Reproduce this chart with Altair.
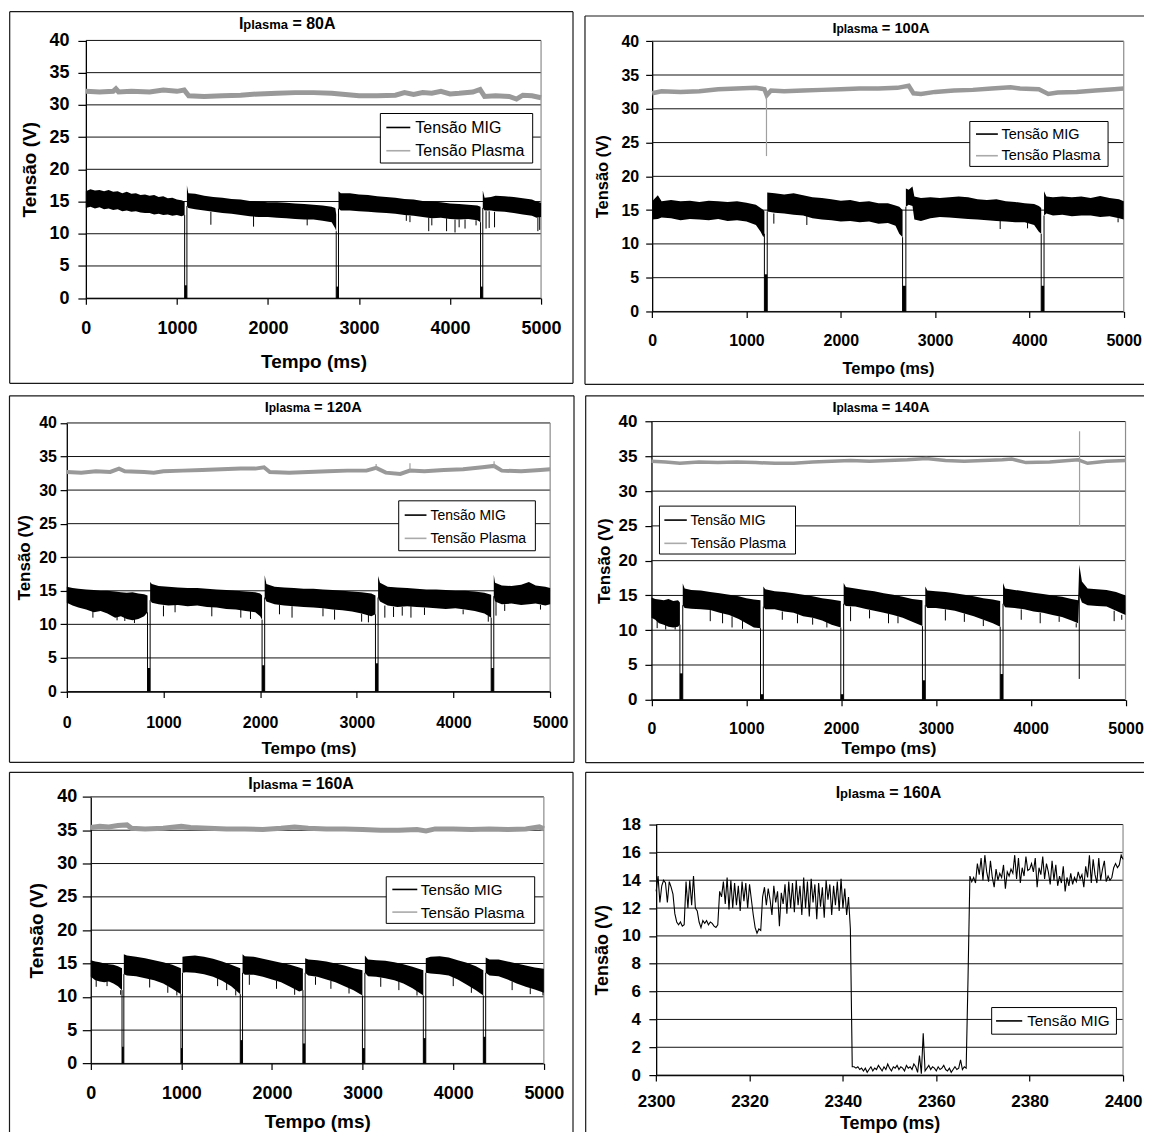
import altair as alt
import pandas as pd
import numpy as np

MIG = "Tensão MIG"
PLA = "Tensão Plasma"
FONT = "Liberation Sans"

# ------------------------------------------------------------------
# DATA
# MIG voltage band: segments between short circuits, knots (t ms, upper V, lower V)
# ------------------------------------------------------------------
MIG80 = [
    [(0, 16.6, 14.0), (50, 16.9, 14.2), (100, 16.7, 13.9), (150, 16.8, 14.1), (200, 16.6, 13.8),
     (250, 16.8, 13.9), (300, 16.5, 13.7), (350, 16.6, 13.8), (400, 16.3, 13.5), (450, 16.5, 13.6),
     (500, 16.2, 13.4), (550, 16.3, 13.5), (600, 16.0, 13.3), (650, 16.1, 13.2), (700, 15.9, 13.2),
     (750, 16.0, 13.0), (800, 15.7, 13.1), (850, 15.8, 12.9), (900, 15.5, 13.0), (950, 15.6, 12.8),
     (1000, 15.3, 12.9), (1050, 15.2, 12.7), (1085, 15.0, 12.9)],
    [(1110, 17.5, 14.3), (1125, 16.3, 14.0), (1200, 16.2, 13.8), (1300, 15.9, 13.6), (1400, 15.7, 13.4),
     (1500, 15.6, 13.2), (1600, 15.4, 13.1), (1700, 15.3, 12.9), (1800, 15.1, 12.7), (1900, 15.0, 12.6),
     (2000, 14.9, 12.6), (2100, 14.9, 12.5), (2200, 14.8, 12.4), (2300, 14.7, 12.3), (2400, 14.6, 12.2),
     (2500, 14.5, 12.2), (2600, 14.4, 12.0), (2700, 14.2, 11.8), (2740, 14.0, 10.8), (2750, 13.0, 10.4)],
    [(2775, 16.6, 13.9), (2800, 16.3, 13.6), (2900, 16.3, 13.6), (3000, 16.1, 13.5), (3100, 16.0, 13.4),
     (3200, 15.8, 13.3), (3300, 15.7, 13.2), (3400, 15.6, 13.1), (3500, 15.4, 12.9), (3600, 15.3, 12.8),
     (3700, 15.1, 12.6), (3800, 15.0, 12.4), (3900, 14.9, 12.5), (4000, 14.7, 12.3), (4100, 14.6, 12.2),
     (4200, 14.5, 12.3), (4300, 14.4, 12.1), (4335, 14.2, 11.8)],
    [(4360, 16.7, 14.0), (4380, 15.6, 13.6), (4450, 15.7, 13.6), (4500, 15.9, 13.5), (4600, 15.8, 13.4),
     (4700, 15.7, 13.2), (4800, 15.5, 13.0), (4900, 15.3, 12.8), (4950, 15.0, 12.5), (5000, 14.8, 12.6)],
]
DIPS80 = [(1085, 1110, 2.0), (2750, 2775, 1.8), (4335, 4360, 1.8)]
SPK80 = [(1373, 13.4, 11.4), (1842, 12.8, 11.1), (2431, 12.3, 11.3), (3520, 12.9, 12.0), (3560, 12.8, 11.8),
         (3766, 12.5, 10.4), (3800, 12.4, 11.3), (3962, 12.4, 10.4), (4055, 12.2, 10.2), (4100, 12.2, 11.0),
         (4165, 12.2, 10.8), (4286, 12.1, 11.3), (4396, 13.5, 10.8), (4430, 13.5, 10.9), (4489, 13.4, 11.0),
         (4965, 12.5, 10.4), (4985, 12.6, 10.6)]
PLA80 = [(0, 32.1), (150, 32.0), (300, 32.1), (330, 32.5), (360, 32.0), (500, 32.1), (700, 32.0), (850, 32.3),
         (1000, 32.1), (1080, 32.3), (1130, 31.4), (1300, 31.3), (1500, 31.4), (1700, 31.5), (1900, 31.7),
         (2100, 31.8), (2300, 31.9), (2500, 31.9), (2700, 31.8), (2850, 31.6), (3000, 31.4), (3200, 31.4),
         (3400, 31.5), (3500, 31.9), (3600, 31.6), (3700, 31.9), (3800, 31.8), (3900, 32.1), (4000, 31.7),
         (4100, 31.8), (4250, 32.0), (4330, 32.4), (4380, 31.3), (4500, 31.4), (4650, 31.3), (4730, 30.9),
         (4800, 31.5), (4900, 31.4), (5000, 31.1)]
PSPK80 = []

MIG100 = [
    [(0, 16.3, 13.6), (60, 17.2, 13.7), (100, 16.3, 13.9), (200, 16.5, 13.8), (300, 16.3, 13.5),
     (400, 16.4, 13.7), (500, 16.2, 13.6), (600, 16.4, 13.5), (700, 16.3, 13.7), (800, 16.2, 13.4),
     (900, 16.3, 13.5), (1000, 16.1, 13.3), (1100, 15.8, 12.8), (1150, 15.3, 11.8), (1180, 15.0, 11.0),
     (1190, 14.8, 11.5)],
    [(1220, 17.6, 14.8), (1300, 17.5, 14.6), (1400, 17.3, 14.5), (1500, 17.5, 14.3), (1600, 17.2, 14.2),
     (1700, 16.9, 13.8), (1800, 16.8, 13.6), (1900, 16.6, 13.5), (2000, 16.4, 13.3), (2100, 16.5, 13.4),
     (2200, 16.2, 13.2), (2300, 16.3, 13.3), (2400, 16.0, 13.0), (2500, 16.0, 13.1), (2580, 15.7, 12.7),
     (2620, 15.5, 11.5), (2655, 15.0, 11.0)],
    [(2690, 18.2, 15.5), (2720, 18.0, 15.8), (2760, 18.5, 15.6), (2780, 17.0, 13.6), (2850, 16.8, 13.4),
     (2950, 16.9, 13.8), (3050, 16.8, 14.0), (3150, 16.9, 13.9), (3250, 17.0, 13.8), (3350, 16.9, 13.7),
     (3450, 16.6, 13.6), (3550, 16.5, 13.5), (3650, 16.6, 13.4), (3750, 16.3, 13.3), (3850, 16.2, 13.2),
     (3950, 16.0, 13.2), (4050, 15.9, 12.8), (4100, 15.6, 11.8), (4125, 15.3, 11.5)],
    [(4155, 17.8, 14.2), (4180, 17.0, 14.5), (4250, 16.9, 14.2), (4350, 17.0, 14.3), (4450, 16.9, 14.1),
     (4550, 17.0, 14.2), (4650, 16.8, 14.2), (4750, 17.1, 14.0), (4850, 16.8, 14.1), (4950, 16.6, 13.8),
     (5000, 16.3, 13.6)],
]
DIPS100 = [(1190, 1220, 5.5), (2655, 2690, 3.8), (4125, 4155, 3.8)]
SPK100 = [(1290, 14.5, 13.0), (1640, 14.2, 12.8), (3690, 13.4, 12.2), (3980, 13.2, 12.3), (4940, 13.8, 13.2)]
PLA100 = [(0, 32.3), (100, 32.6), (300, 32.5), (500, 32.6), (700, 32.9), (900, 33.0), (1100, 33.1), (1190, 32.9),
          (1215, 32.0), (1260, 32.7), (1400, 32.6), (1600, 32.7), (1800, 32.8), (2000, 32.9), (2200, 33.0),
          (2400, 33.0), (2600, 33.1), (2720, 33.4), (2770, 32.3), (2850, 32.2), (3000, 32.5), (3200, 32.7),
          (3400, 32.8), (3600, 33.0), (3800, 33.2), (3900, 33.0), (4100, 32.9), (4200, 32.2), (4300, 32.4),
          (4500, 32.5), (4700, 32.7), (4900, 32.9), (5000, 33.0)]
PSPK100 = [(1212, 32.0, 23.0)]

MIG120 = [
    [(0, 15.6, 13.2), (60, 15.4, 12.8), (120, 15.3, 12.5), (200, 15.2, 12.2), (280, 15.1, 11.8),
     (350, 15.0, 12.0), (420, 15.0, 11.6), (500, 14.9, 11.0), (560, 14.8, 11.2), (620, 14.7, 10.8),
     (680, 14.8, 10.6), (740, 14.6, 10.8), (800, 14.5, 11.2), (835, 14.3, 11.8)],
    [(862, 16.3, 13.6), (880, 16.0, 13.2), (950, 15.7, 13.0), (1050, 15.6, 12.8), (1150, 15.5, 12.9),
     (1250, 15.4, 12.7), (1350, 15.4, 12.8), (1450, 15.3, 12.6), (1550, 15.2, 12.5), (1650, 15.1, 12.3),
     (1750, 15.0, 12.2), (1850, 14.9, 12.0), (1950, 14.8, 11.8), (2000, 14.6, 11.2), (2020, 14.3, 10.7)],
    [(2047, 17.3, 14.0), (2065, 16.0, 13.4), (2150, 15.6, 13.0), (2250, 15.5, 12.8), (2350, 15.4, 12.7),
     (2450, 15.3, 12.6), (2550, 15.3, 12.5), (2650, 15.2, 12.4), (2750, 15.1, 12.2), (2850, 15.0, 12.1),
     (2950, 14.9, 11.9), (3050, 14.8, 11.6), (3150, 14.6, 11.2), (3193, 14.3, 11.5)],
    [(3220, 17.2, 14.0), (3240, 16.2, 13.4), (3320, 15.6, 12.8), (3420, 15.5, 12.6), (3520, 15.4, 12.7),
     (3620, 15.3, 12.6), (3720, 15.2, 12.5), (3820, 15.2, 12.4), (3920, 15.1, 12.3), (4020, 15.0, 12.4),
     (4120, 15.0, 12.2), (4220, 14.9, 12.0), (4320, 14.7, 11.6), (4390, 14.4, 11.0)],
    [(4417, 17.4, 14.2), (4430, 16.2, 13.4), (4500, 15.8, 13.0), (4600, 15.7, 13.1), (4700, 15.9, 12.9),
     (4780, 16.3, 13.0), (4850, 15.8, 13.1), (4950, 15.6, 12.8), (5000, 15.4, 13.0)],
]
DIPS120 = [(835, 862, 3.5), (2020, 2047, 3.9), (3193, 3220, 4.2), (4390, 4417, 3.5)]
SPK120 = [(270, 12.0, 11.0), (520, 11.5, 10.6), (600, 11.4, 10.5), (700, 11.0, 10.2), (1000, 12.8, 11.2),
          (1120, 12.9, 11.8), (1500, 12.6, 11.2), (1800, 12.2, 11.0), (1900, 12.0, 10.8), (2200, 12.9, 11.5),
          (2330, 12.7, 11.0), (2650, 12.4, 11.2), (2770, 12.2, 10.7), (3050, 11.6, 10.4), (3120, 11.4, 10.3),
          (3290, 12.8, 11.0), (3380, 12.6, 11.1), (3470, 12.6, 11.3), (3560, 12.7, 11.0), (3700, 12.5, 11.4),
          (4100, 12.2, 11.5), (4360, 11.3, 10.4), (4440, 13.4, 11.3), (4530, 13.0, 12.0), (4900, 12.9, 12.2)]
PLA120 = [(0, 32.7), (150, 32.6), (300, 32.8), (450, 32.7), (540, 33.2), (600, 32.8), (800, 32.7), (900, 32.6),
          (1000, 32.8), (1200, 32.9), (1400, 33.0), (1600, 33.1), (1800, 33.2), (1950, 33.2), (2040, 33.4),
          (2100, 32.7), (2300, 32.6), (2500, 32.7), (2700, 32.8), (2900, 32.9), (3100, 32.9), (3200, 33.3),
          (3300, 32.6), (3450, 32.4), (3550, 32.9), (3700, 32.8), (3900, 33.0), (4100, 33.1), (4300, 33.4),
          (4420, 33.6), (4500, 32.9), (4700, 32.8), (4900, 33.0), (5000, 33.1)]
PSPK120 = [(3200, 33.0, 33.9), (3550, 32.8, 34.0), (4420, 33.3, 34.3)]

MIG140 = [
    [(0, 14.7, 11.8), (40, 14.5, 11.5), (80, 14.4, 11.0), (130, 14.3, 10.8), (180, 14.5, 10.5),
     (230, 14.2, 10.4), (280, 14.3, 10.5), (300, 14.0, 10.8)],
    [(330, 16.7, 13.6), (350, 16.0, 13.2), (420, 15.8, 13.1), (520, 15.7, 13.0), (620, 15.5, 12.9),
     (720, 15.3, 12.5), (820, 15.1, 12.2), (920, 14.9, 11.6), (1000, 14.6, 11.0), (1080, 14.4, 10.4),
     (1150, 14.3, 10.3)],
    [(1180, 16.3, 13.4), (1200, 15.9, 13.0), (1300, 15.6, 13.0), (1400, 15.5, 12.7), (1500, 15.3, 12.5),
     (1600, 15.1, 12.0), (1700, 14.9, 11.8), (1800, 14.6, 11.4), (1900, 14.4, 10.8), (1997, 14.2, 10.4)],
    [(2027, 16.8, 13.8), (2050, 16.2, 13.5), (2150, 16.0, 13.4), (2250, 15.8, 13.1), (2350, 15.6, 12.8),
     (2450, 15.3, 12.5), (2550, 15.1, 12.2), (2650, 14.8, 11.8), (2750, 14.5, 11.2), (2858, 14.3, 10.6)],
    [(2888, 16.3, 13.6), (2910, 15.7, 13.2), (3000, 15.6, 13.2), (3100, 15.5, 13.0), (3200, 15.3, 12.8),
     (3300, 15.1, 12.4), (3400, 14.9, 12.0), (3500, 14.6, 11.5), (3600, 14.4, 11.0), (3678, 14.2, 10.5)],
    [(3708, 16.8, 13.8), (3730, 16.0, 13.3), (3830, 15.8, 13.2), (3930, 15.6, 13.0), (4030, 15.4, 12.7),
     (4130, 15.2, 12.5), (4230, 15.0, 12.2), (4330, 14.8, 11.9), (4430, 14.5, 11.4), (4500, 14.3, 11.0),
     (4512, 19.4, 15.0), (4540, 17.0, 14.0), (4600, 16.0, 13.6), (4700, 15.9, 13.5), (4800, 15.8, 13.4),
     (4900, 15.5, 12.8), (5000, 15.0, 12.2)],
]
DIPS140 = [(300, 330, 3.8), (1150, 1180, 0.8), (1997, 2027, 0.8), (2858, 2888, 2.8), (3678, 3708, 3.7)]
SPK140 = [(60, 11.5, 10.3), (150, 11.0, 10.1), (250, 10.6, 10.1), (620, 12.9, 11.3), (750, 12.5, 11.0),
          (850, 12.0, 10.4), (960, 11.5, 10.2), (1380, 12.7, 11.5), (1540, 12.3, 11.0), (1700, 11.8, 10.8),
          (1850, 11.2, 10.4), (2100, 13.4, 11.3), (2300, 12.9, 11.7), (2500, 12.4, 11.0), (2600, 12.0, 11.0),
          (3100, 13.0, 11.4), (3300, 12.4, 11.2), (3500, 11.5, 10.6), (3900, 13.0, 11.5), (4100, 12.5, 11.0),
          (4300, 12.0, 11.2), (4480, 11.0, 10.4), (4512, 15.0, 3.0), (4880, 12.8, 11.3), (4960, 12.2, 11.5)]
PLA140 = [(0, 34.3), (150, 34.2), (300, 34.0), (500, 34.2), (700, 34.1), (900, 34.2), (1100, 34.1), (1300, 34.0),
          (1500, 34.0), (1700, 34.2), (1900, 34.3), (2100, 34.4), (2300, 34.3), (2500, 34.4), (2700, 34.5),
          (2900, 34.7), (3100, 34.4), (3300, 34.3), (3500, 34.4), (3700, 34.5), (3800, 34.6), (3950, 34.1),
          (4200, 34.2), (4400, 34.4), (4500, 34.5), (4600, 34.0), (4800, 34.3), (5000, 34.4)]
PSPK140 = [(4515, 25.0, 38.6)]

MIG160 = [
    [(0, 15.5, 13.0), (50, 15.3, 12.5), (100, 15.2, 12.3), (150, 15.0, 12.2), (200, 14.9, 12.3),
     (250, 14.8, 12.0), (300, 14.6, 11.6), (345, 14.3, 11.0)],
    [(365, 16.4, 13.4), (400, 16.2, 13.2), (500, 16.0, 13.1), (600, 15.8, 12.8), (700, 15.5, 12.5),
     (800, 15.2, 12.0), (900, 14.8, 11.2), (995, 14.3, 10.4)],
    [(1012, 16.0, 13.6), (1050, 16.1, 13.7), (1150, 16.2, 13.6), (1250, 16.0, 13.4), (1350, 15.7, 13.0),
     (1450, 15.3, 12.4), (1550, 14.8, 11.6), (1650, 14.3, 10.4)],
    [(1675, 16.4, 13.6), (1700, 16.1, 13.3), (1800, 16.0, 13.3), (1900, 15.7, 13.0), (2000, 15.4, 12.6),
     (2100, 15.1, 12.2), (2200, 14.8, 11.5), (2300, 14.4, 10.8), (2341, 14.2, 11.0)],
    [(2366, 15.8, 13.6), (2400, 15.6, 13.2), (2500, 15.5, 13.0), (2600, 15.3, 12.6), (2700, 15.0, 12.2),
     (2800, 14.7, 11.6), (2900, 14.3, 11.0), (2998, 14.0, 10.2)],
    [(3025, 16.2, 13.6), (3060, 15.6, 13.1), (3150, 15.5, 13.0), (3250, 15.4, 12.8), (3350, 15.2, 12.5),
     (3450, 14.9, 12.0), (3550, 14.5, 11.3), (3670, 14.0, 10.2)],
    [(3697, 15.8, 13.6), (3750, 16.0, 13.5), (3850, 16.1, 13.4), (3950, 15.9, 13.2), (4050, 15.5, 12.6),
     (4150, 15.1, 11.8), (4250, 14.6, 11.0), (4332, 14.0, 10.2)],
    [(4358, 15.9, 13.6), (4400, 15.6, 13.2), (4500, 15.6, 13.1), (4600, 15.3, 12.6), (4700, 15.0, 12.0),
     (4800, 14.7, 11.5), (4900, 14.4, 11.1), (5000, 14.2, 10.6)],
]
DIPS160 = [(345, 365, 2.5), (995, 1012, 2.3), (1650, 1675, 3.5), (2341, 2366, 3.0), (2998, 3025, 2.3),
           (3670, 3697, 3.8), (4332, 4358, 4.0)]
SPK160 = [(60, 12.5, 11.5), (180, 12.3, 11.6), (330, 11.0, 10.3), (650, 12.7, 11.4), (850, 11.6, 10.6),
          (950, 11.0, 10.2), (1400, 12.8, 11.6), (1500, 12.2, 11.0), (1600, 11.0, 10.2), (1750, 13.3, 11.8),
          (2050, 12.4, 11.2), (2250, 11.3, 10.3), (2480, 13.0, 11.8), (2650, 12.4, 11.2), (2850, 11.5, 10.5),
          (3200, 12.9, 11.5), (3400, 12.4, 11.0), (3600, 11.0, 10.2), (4000, 13.0, 11.6), (4200, 11.6, 10.6),
          (4650, 12.3, 11.0), (4850, 11.3, 10.4), (4990, 10.8, 10.2)]
PLA160 = [(0, 35.4), (100, 35.6), (200, 35.5), (300, 35.7), (400, 35.8), (450, 35.3), (600, 35.2), (800, 35.3),
          (1000, 35.6), (1100, 35.4), (1300, 35.3), (1500, 35.2), (1700, 35.2), (1900, 35.1), (2100, 35.3),
          (2250, 35.5), (2400, 35.3), (2600, 35.2), (2800, 35.2), (3000, 35.1), (3200, 35.0), (3400, 35.0),
          (3600, 35.1), (3700, 34.9), (3800, 35.2), (4000, 35.2), (4200, 35.1), (4400, 35.2), (4600, 35.1),
          (4800, 35.2), (4950, 35.5), (5000, 35.2)]
PSPK160 = []

# detail 2300-2400 ms, I plasma = 160 A (one reading every 0.4 ms)
ZOOM_V = [
    13.2, 14.3, 12.4, 13.6, 14.0, 13.8, 12.4, 13.9, 13.5, 13.0, 11.6,
    11.0, 10.8, 11.0, 10.7, 10.8,
    13.9, 12.0, 14.0, 12.2, 14.3, 12.0,
    11.8, 11.0, 10.6, 11.1, 10.9, 11.1, 10.8, 11.0, 10.9, 10.7, 10.6, 10.8,
    13.2, 12.8, 13.9, 12.3, 14.2, 11.9, 14.0, 12.0, 13.8, 12.2, 13.6, 11.8, 13.9, 12.5, 13.8, 12.0, 13.7, 12.6, 11.5,
    10.6, 10.2, 10.5, 10.4,
    12.8, 13.5, 12.2, 13.4, 12.6, 11.5, 13.6, 12.4, 13.2, 10.7, 13.1, 12.3, 13.7, 11.6, 13.9, 12.0, 13.8, 11.7,
    14.0, 12.2, 13.6, 11.5, 14.2, 12.0, 13.9, 11.4, 14.1, 12.4, 13.7, 11.2, 13.8, 12.1, 13.5, 11.3, 14.0, 12.6,
    13.7, 11.5, 13.6, 12.2, 13.9, 11.8, 14.1, 12.0, 13.4, 11.5, 12.8,
    10.5, 0.6,
    0.6, 0.5, 0.6, 0.4, 0.5, 0.3, 0.5, 0.2, 0.4, 0.6, 0.3, 0.5, 0.4, 0.7, 0.5, 0.3, 0.6, 0.4, 0.8, 0.5,
    0.3, 0.6, 0.5, 0.7, 0.4, 0.6, 0.5, 0.3, 0.7, 0.5, 0.6, 0.4, 0.8, 0.6, 0.2, 1.4, 0.1, 3.0, 0.3, 0.5,
    0.7, 0.4, 0.6, 0.5, 0.3, 0.6, 0.4, 0.5, 0.7, 0.4, 0.3, 0.5, 0.2, 0.4, 0.6, 0.4, 0.5, 1.1, 0.4, 0.6,
    0.5, 7.0, 14.3,
    13.9, 14.2, 13.8, 15.2, 14.4, 15.6, 14.0, 15.8, 14.6, 13.9, 15.4, 14.2, 13.5, 14.8, 14.0, 14.5, 14.2,
    15.1, 13.4, 14.6, 14.3, 14.8, 14.5, 15.8, 14.1, 15.6, 13.8, 14.9, 14.3, 15.7, 14.7, 14.8, 15.2, 14.6,
    15.6, 13.5, 14.9, 14.4, 15.7, 14.1, 15.2, 14.6, 13.7, 15.4, 14.0, 15.1, 13.6, 14.3, 13.8, 15.0, 13.2,
    14.2, 13.6, 14.5, 13.7, 14.2, 13.9, 14.6, 14.1, 14.4, 13.5, 15.0, 14.2, 15.8, 13.8, 15.5, 14.4, 13.8,
    15.6, 14.0, 14.8, 15.4, 13.9, 14.3, 14.0, 14.2, 14.9, 15.2, 14.9, 15.1, 15.8, 15.5,
]
ZOOM_T0, ZOOM_T1 = 2300, 2400

# ------------------------------------------------------------------
# LAYOUT (page pixel positions measured on the reference)
# ------------------------------------------------------------------
LAYOUT = {
    "80": dict(plot=(85, 39.5, 541, 297.7), cell=(8, 8, 583, 390), frame=(8.7, 10.7, 573, 383), edges="tlrb",
               yfs=18, ytick=8, ypad=9, xfs=18, xpad=15, tfs=19, xt=361, yt=29, pw=5,
               leg=dict(box=(380, 112.7, 532.6, 162.3), yc=[126.7, 150], sym=(386, 410), lx=415, fs=16),
               title=(286.7, 28.3, 16, 13)),
    "100": dict(plot=(659.3, 40.3, 1131.7, 311), cell=(583, 8, 1152, 390), frame=(592, 15, 1152, 384), edges="tlb",
                yfs=16, ytick=6.5, ypad=7, xfs=16, xpad=15, tfs=16.5, xt=367.7, yt=610, pw=4.5,
                leg=dict(box=(977.5, 120.7, 1116, 165.7), yc=[133.3, 155], sym=(983.7, 1005.6), lx=1009.3,
                         fs=14.5),
                title=(888.5, 31.7, 14.7, 12)),
    "120": dict(plot=(65.9, 422.7, 550.1, 691.7), cell=(8, 390, 583, 768), frame=(8.5, 395.5, 574, 762.7),
                edges="tlrb",
                yfs=16, ytick=6.7, ypad=3.7, xfs=16, xpad=17, tfs=17, xt=749.3, yt=24, pw=4,
                leg=dict(box=(398.4, 500.7, 535.3, 550.7), yc=[515, 538.3], sym=(404.4, 426.2), lx=430.3, fs=14),
                title=(312.8, 411.7, 14.7, 12)),
    "140": dict(plot=(658.6, 421.3, 1133.5, 700), cell=(583, 390, 1152, 768), frame=(592.7, 395.5, 1152, 763),
                edges="tlb",
                yfs=17, ytick=6.6, ypad=8, xfs=16, xpad=15, tfs=17, xt=749.3, yt=612, pw=3.5,
                leg=dict(box=(666.6, 506, 802.9, 554), yc=[520, 543.3], sym=(671.5, 694), lx=697.6, fs=14),
                title=(888.5, 411.7, 14.7, 12)),
    "160": dict(plot=(89.9, 797.3, 543.8, 1064.3), cell=(8, 768, 583, 1133), frame=(8.5, 772.7, 573, 1133),
                edges="tlr",
                yfs=18, ytick=8.5, ypad=5.6, xfs=18, xpad=15.3, tfs=19, xt=1122.5, yt=36, pw=5,
                leg=dict(box=(385.9, 877.3, 534.6, 924), yc=[890, 912.7], sym=(392, 417), lx=420.6, fs=15.2),
                title=(300.6, 789.3, 16, 13)),
    "zoom": dict(plot=(663.3, 825, 1131, 1076), cell=(583, 768, 1152, 1133), frame=(592.7, 772.7, 1152, 1133),
                 edges="tl",
                 yfs=17, ytick=7.3, ypad=8.4, xfs=17, xpad=12.3, tfs=18, xt=1124, yt=610, pw=1.1,
                 leg=dict(box=(999.4, 1008.3, 1124.4, 1035), yc=[1021.7], sym=(1003.8, 1030), lx=1035, fs=15.3),
                 title=(896, 798.3, 16, 13)),
}
COL2_SHIFT = -7  # the page only has room up to x = 1145 without rescaling

ONE = pd.DataFrame({"k": [0]})
FRAME_COLOR = "#1a1a1a"


def value_rule(color, width, **enc):
    return alt.Chart(ONE).mark_rule(color=color, strokeWidth=width).encode(
        **{k: alt.value(v) for k, v in enc.items()})


def value_text(txt, x, y, fs, bold=True, align="left", baseline="alphabetic"):
    return alt.Chart(ONE).mark_text(align=align, baseline=baseline, font=FONT,
                                    fontWeight="bold" if bold else "normal",
                                    fontSize=fs, color="black").encode(
        x=alt.value(x), y=alt.value(y), text=alt.value(txt))


def make_panel(key, num, segs=None, dips=None, spikes=None, plasma=None, pspikes=None):
    L = LAYOUT[key]
    sh = COL2_SHIFT if L["cell"][0] > 500 else 0
    cx0, cy0, cx1, cy1 = L["cell"]
    if sh:
        cx1 = cx1 + sh
    ox, oy = cx0, cy0

    def rx(x):
        return x + sh - ox if x != L["cell"][2] else cx1 - ox

    def ry(y):
        return y - oy

    px0, py0, px1, py1 = L["plot"]
    W, H = cx1 - cx0, cy1 - cy0
    xl, xr, yt_, yb = rx(px0), rx(px1), ry(py0), ry(py1)
    zoom = key == "zoom"
    if zoom:
        xdom, xticks = [ZOOM_T0, ZOOM_T1], list(range(2300, 2401, 20))
        ydom, yticks = [0, 18], list(range(0, 19, 2))
    else:
        xdom, xticks = [0, 5000], list(range(0, 5001, 1000))
        ydom, yticks = [0, 40], list(range(0, 41, 5))

    xsc = alt.Scale(domain=xdom, range=[xl, xr], nice=False, zero=False)
    ysc = alt.Scale(domain=ydom, range=[yb, yt_], nice=False)
    # axis lines sit inside the panel: negative offsets pull them in from the group edges
    xax = alt.Axis(title="Tempo (ms)", values=xticks, format="d", grid=False, labelFontSize=L["xfs"],
                   labelPadding=L["xpad"], tickSize=6, labelFlush=False, labelOverlap=False,
                   offset=yb - H, titleFontSize=L["tfs"], titleX=(xl + xr) / 2, titleY=L["xt"] - py1,
                   titleBaseline="middle")
    yax = alt.Axis(title="Tensão (V)", values=yticks, format="d", grid=False, labelFontSize=L["yfs"],
                   labelPadding=L["ypad"], tickSize=L["ytick"], labelFlush=False, labelOverlap=False,
                   offset=-xl, titleFontSize=L["tfs"], titleX=L["yt"] - px0, titleY=(yt_ + yb) / 2,
                   titleBaseline="middle")

    def X(f):
        return alt.X(f, type="quantitative", scale=xsc, axis=xax)

    def Y(f):
        return alt.Y(f, type="quantitative", scale=ysc, axis=yax)

    layers = []
    fx0, fy0, fx1, fy1 = L["frame"]
    for e in L["edges"]:
        if e == "t":
            layers.append(value_rule(FRAME_COLOR, 1.2, x=rx(fx0), x2=rx(fx1), y=ry(fy0)))
        elif e == "b":
            layers.append(value_rule(FRAME_COLOR, 1.2, x=rx(fx0), x2=rx(fx1), y=ry(fy1)))
        elif e == "l":
            layers.append(value_rule(FRAME_COLOR, 1.2, x=rx(fx0), y=ry(fy0), y2=ry(fy1)))
        else:
            layers.append(value_rule(FRAME_COLOR, 1.2, x=rx(fx1), y=ry(fy0), y2=ry(fy1)))

    gdf = pd.DataFrame({"g": yticks})
    layers.append(alt.Chart(gdf).mark_rule(color="#111111", strokeWidth=1).encode(
        y=Y("g"), x=alt.value(xl), x2=alt.value(xr)))
    layers.append(value_rule("#8c8c8c", 1.2, x=xr, y=yt_, y2=yb))

    if zoom:
        zdf = pd.DataFrame({"t": np.linspace(ZOOM_T0, ZOOM_T1, len(ZOOM_V)), "v": ZOOM_V})
        layers.append(alt.Chart(zdf).mark_line(color="black", strokeWidth=L["pw"]).encode(
            x=X("t"), y=Y("v")))
        entries = [(MIG, "#000000")]
    else:
        pdf = pd.DataFrame([{"t": t, "v": v} for t, v in plasma])
        layers.append(alt.Chart(pdf).mark_line(color="#999999", strokeWidth=L["pw"]).encode(
            x=X("t"), y=Y("v")))

        bdf = pd.DataFrame([{"t": t, "hi": hi, "lo": lo, "seg": k}
                            for k, seg in enumerate(segs) for (t, hi, lo) in seg])
        layers.append(alt.Chart(bdf).mark_area(color="black", opacity=1).encode(
            x=X("t"), y=Y("hi"), y2="lo", detail="seg:N"))

        blk = pd.DataFrame([{"t0": a, "t1": b, "b0": 0, "top": top} for a, b, top in dips])
        layers.append(alt.Chart(blk).mark_rect(color="black").encode(
            x=X("t0"), x2="t1", y=Y("b0"), y2="top"))

        rows = [{"t": t, "y1": a, "y2": b} for t, a, b in spikes]
        for i, (a, b, top) in enumerate(dips):
            rows.append({"t": a, "y1": 0, "y2": segs[i][-1][2]})
            rows.append({"t": b, "y1": 0, "y2": segs[i + 1][0][2]})
        rdf = pd.DataFrame(rows)
        layers.append(alt.Chart(rdf).mark_rule(color="black", strokeWidth=1).encode(
            x=X("t"), y=Y("y1"), y2="y2"))
        if pspikes:
            psdf = pd.DataFrame([{"t": t, "y1": a, "y2": b} for t, a, b in pspikes])
            layers.append(alt.Chart(psdf).mark_rule(color="#a0a0a0", strokeWidth=1.2).encode(
                x=X("t"), y=Y("y1"), y2="y2"))
        entries = [(MIG, "#000000"), (PLA, "#aaaaaa")]

    lg = L["leg"]
    bx0, by0, bx1, by1 = lg["box"]
    layers.append(alt.Chart(ONE).mark_rect(fill="white", stroke="black", strokeWidth=1).encode(
        x=alt.value(rx(bx0)), x2=alt.value(rx(bx1)), y=alt.value(ry(by0)), y2=alt.value(ry(by1))))
    for (label, col), yc in zip(entries, lg["yc"]):
        layers.append(value_rule(col, 1.6, x=rx(lg["sym"][0]), x2=rx(lg["sym"][1]), y=ry(yc)))
        layers.append(value_text(label, rx(lg["lx"]), ry(yc) + 0.5, lg["fs"], bold=False, baseline="middle"))

    cx, by, big, small = L["title"]
    w_i = 0.278 * big
    w_p = 3.446 * small
    w_sp = 0.278 * big
    w_rest = (0.584 + 0.278 + 0.556 * len(num) + 0.722) * big
    x0 = cx - (w_i + w_p + w_sp + w_rest) / 2
    layers.append(value_text("I", rx(x0), ry(by), big))
    layers.append(value_text("plasma", rx(x0 + w_i), ry(by), small))
    layers.append(value_text("= " + num + "A", rx(x0 + w_i + w_p + w_sp), ry(by), big))

    return alt.layer(*layers).properties(width=W, height=H)


p80 = make_panel("80", "80", MIG80, DIPS80, SPK80, PLA80, PSPK80)
p100 = make_panel("100", "100", MIG100, DIPS100, SPK100, PLA100, PSPK100)
p120 = make_panel("120", "120", MIG120, DIPS120, SPK120, PLA120, PSPK120)
p140 = make_panel("140", "140", MIG140, DIPS140, SPK140, PLA140, PSPK140)
p160 = make_panel("160", "160", MIG160, DIPS160, SPK160, PLA160, PSPK160)
pzoom = make_panel("zoom", "160")


def row(a, b):
    return alt.hconcat(a, b, spacing=0).resolve_scale(x="independent", y="independent")


chart = (
    alt.vconcat(row(p80, p100), row(p120, p140), row(p160, pzoom), spacing=0)
    .resolve_scale(x="independent", y="independent")
    .properties(padding=0, background="white")
    .configure_view(strokeWidth=0)
    .configure_axis(labelFont=FONT, titleFont=FONT, labelFontWeight="bold", titleFontWeight="bold",
                    labelColor="black", titleColor="black", domainColor="black", tickColor="black",
                    domainWidth=1.3, tickWidth=1.2)
)

chart.save("out.html", embed_options={"renderer": "svg", "actions": False})
